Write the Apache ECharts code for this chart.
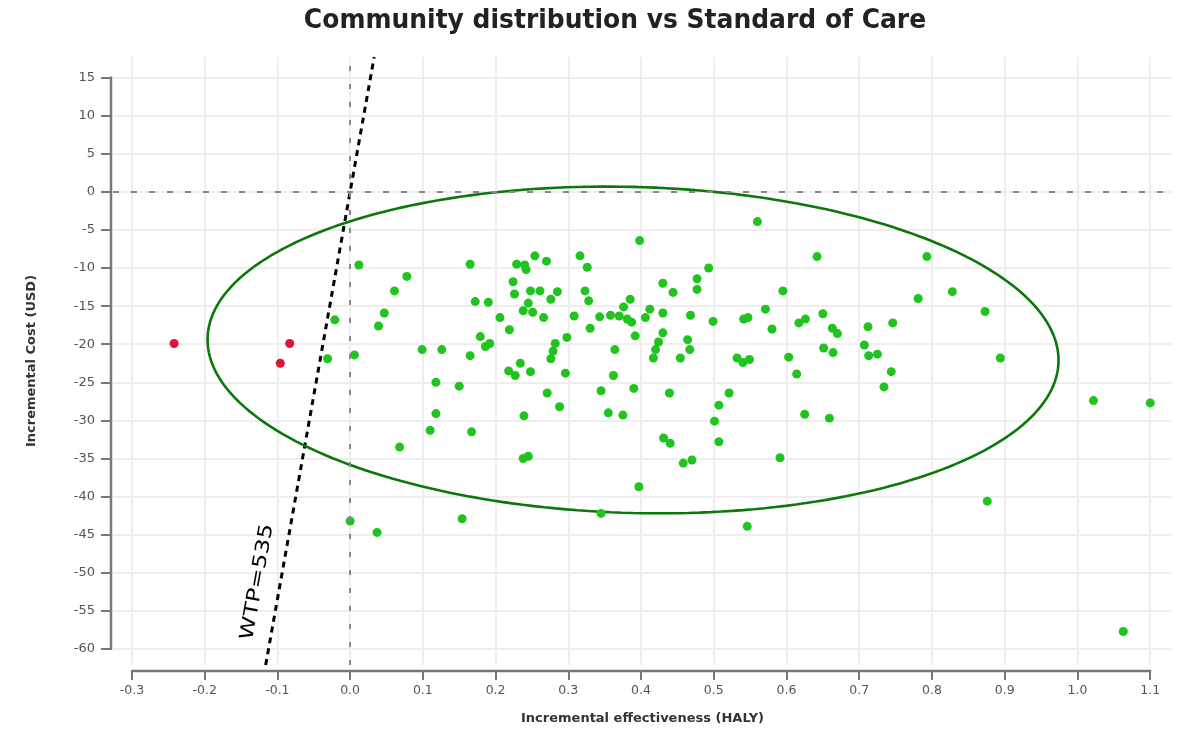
<!DOCTYPE html>
<html>
<head>
<meta charset="utf-8">
<script src="https://cdn.jsdelivr.net/npm/echarts@6/dist/echarts.min.js"></script>
<style>
html,body{margin:0;padding:0;background:#ffffff;}
#c{width:1181px;height:734px;}
</style>
</head>
<body>
<div id="c"></div>
<script>
// ---------- data ----------
const chartTitle = 'Community distribution vs Standard of Care';
const xAxisTitle = 'Incremental effectiveness (HALY)';
const yAxisTitle = 'Incremental Cost (USD)';
const wtpLabel = 'WTP=535';
const wtpValue = 535;
const xTicks = [-0.3, -0.2, -0.1, 0.0, 0.1, 0.2, 0.3, 0.4, 0.5, 0.6, 0.7, 0.8, 0.9, 1.0, 1.1];
const yTicks = [15, 10, 5, 0, -5, -10, -15, -20, -25, -30, -35, -40, -45, -50, -55, -60];

// dominated simulations (red)
const redEffect = [-0.242, -0.083, -0.096];
const redCost   = [-19.9, -19.9, -22.5];

// cost-effective simulations (green)
const greenEffect = [
  0.012,-0.021,0.047,0.039,-0.031,0.006,0.000,0.037,0.061,0.078,
  0.165,0.229,0.240,0.242,0.254,0.270,0.316,0.326,0.398,0.560,
  0.493,0.477,0.477,0.430,0.444,0.099,0.126,0.118,0.150,0.118,
  0.172,0.190,0.206,0.219,0.224,0.226,0.248,0.261,0.285,0.276,
  0.245,0.238,0.251,0.266,0.323,0.328,0.308,0.330,0.343,0.358,
  0.370,0.376,0.385,0.381,0.387,0.392,0.406,0.412,0.430,0.430,
  0.424,0.420,0.417,0.468,0.499,0.464,0.467,0.454,0.541,0.547,
  0.571,0.532,0.540,0.549,0.580,0.179,0.186,0.192,0.165,0.218,
  0.227,0.234,0.248,0.271,0.288,0.298,0.282,0.279,0.276,0.296,
  0.364,0.362,0.345,0.390,0.439,0.507,0.521,0.595,0.617,0.603,
  0.239,0.110,0.167,0.068,0.238,0.245,0.614,0.355,0.375,0.501,
  0.431,0.440,0.507,0.458,0.470,0.591,0.397,0.154,0.345,0.546,
  0.642,0.793,0.828,0.781,0.873,0.650,0.663,0.670,0.712,0.746,
  0.651,0.664,0.707,0.713,0.725,0.894,0.744,0.734,0.625,0.659,
  0.876,1.022,1.100,1.063,0.626
];
const greenCost = [
  -9.6,-16.8,-15.9,-17.6,-21.9,-21.4,-43.2,-44.7,-13.0,-11.1,
  -9.5,-9.5,-9.6,-10.2,-8.4,-9.1,-8.4,-9.9,-6.4,-3.9,
  -10.0,-11.4,-12.8,-12.0,-13.2,-20.7,-20.7,-25.0,-25.5,-29.1,
  -14.4,-14.5,-16.5,-18.1,-11.8,-13.4,-13.0,-13.0,-13.1,-14.1,
  -14.6,-15.6,-15.8,-16.5,-13.0,-14.3,-16.3,-17.9,-16.4,-16.2,
  -16.3,-15.1,-14.1,-16.7,-17.1,-18.9,-16.5,-15.4,-15.9,-18.5,
  -19.7,-20.7,-21.8,-16.2,-17.0,-19.4,-20.7,-21.8,-16.7,-16.5,
  -15.4,-21.8,-22.4,-22.0,-18.0,-19.0,-20.3,-19.9,-21.5,-23.5,
  -24.1,-22.5,-23.6,-26.4,-28.2,-19.1,-19.9,-20.9,-21.9,-23.8,
  -20.7,-24.1,-26.1,-25.8,-26.4,-28.0,-26.4,-13.0,-17.2,-21.7,
  -29.4,-31.3,-31.5,-33.5,-35.0,-34.7,-23.9,-29.0,-29.3,-30.1,
  -32.3,-33.0,-32.8,-35.6,-35.2,-34.9,-38.7,-42.9,-42.2,-43.9,
  -8.5,-8.5,-13.1,-14.0,-15.7,-16.0,-17.9,-18.6,-17.7,-17.2,
  -20.5,-21.1,-20.1,-21.5,-21.3,-21.8,-23.6,-25.6,-29.2,-29.7,
  -40.6,-27.4,-27.7,-57.7,-16.7
];

// confidence ellipse: centre, semi-axes, shear
const ellipseCentre = [0.389, -20.75];
const ellipseAxes = [0.585, 21.4];
const ellipseShear = -1.35;

// ---------- chart ----------
const xMin = -0.326, xMax = 1.130, yMin = -62.1, yMax = 17.7;
const GRID = {left: 113, right: 9, top: 57, bottom: 69};
const FONT = '"DejaVu Sans", "Liberation Sans", sans-serif';

const greenData = greenEffect.map((x, i) => [x, greenCost[i]]);
const redData = redEffect.map((x, i) => [x, redCost[i]]);

const ellipseData = [];
for (let i = 0; i <= 240; i++) {
  const t = (i / 240) * Math.PI * 2;
  ellipseData.push([
    ellipseCentre[0] + ellipseAxes[0] * Math.cos(t),
    ellipseCentre[1] + ellipseAxes[1] * Math.sin(t) + ellipseShear * Math.cos(t)
  ]);
}
const wtpData = [[yMin / wtpValue, yMin], [yMax / wtpValue, yMax]];

const chart = echarts.init(document.getElementById('c'));
const option = {
  animation: false,
  backgroundColor: '#ffffff',
  grid: GRID,
  xAxis: {
    type: 'value', min: xMin, max: xMax, offset: 6,
    axisLine: {show: false, onZero: false},
    axisTick: {show: true, customValues: xTicks, length: 9, lineStyle: {color: '#777', width: 2}},
    axisLabel: {customValues: xTicks, formatter: v => v.toFixed(1), color: '#555', fontSize: 12.5, margin: 13, fontFamily: FONT},
    splitLine: {show: true, lineStyle: {color: '#eeeeee', width: 2}},
    name: xAxisTitle, nameLocation: 'middle', nameGap: 41,
    nameTextStyle: {fontWeight: 'bold', fontSize: 13, color: '#333', fontFamily: FONT}
  },
  yAxis: {
    type: 'value', min: yMin, max: yMax, offset: 2,
    axisLine: {show: false, onZero: false},
    axisTick: {show: true, customValues: yTicks, length: 10, lineStyle: {color: '#777', width: 2}},
    axisLabel: {customValues: yTicks, formatter: v => String(v), color: '#555', fontSize: 13, margin: 16, fontFamily: FONT},
    splitLine: {show: true, lineStyle: {color: '#eeeeee', width: 2}},
    name: yAxisTitle, nameLocation: 'middle', nameGap: 73,
    nameTextStyle: {fontWeight: 'bold', fontSize: 13, color: '#333', fontFamily: FONT}
  },
  series: [
    {
      name: 'zero', type: 'line', data: [], silent: true, z: 1,
      markLine: {
        silent: true, symbol: ['none', 'none'], label: {show: false}, animation: false,
        lineStyle: {color: '#888888', width: 2},
        data: [
          {xAxis: 0, lineStyle: {type: [5, 13], color: '#888888', width: 2}},
          {yAxis: 0, lineStyle: {type: [6, 12], color: '#888888', width: 2}}
        ]
      }
    },
    {
      name: 'WTP', type: 'line', data: wtpData, showSymbol: false, symbol: 'none', z: 2, silent: true,
      lineStyle: {color: '#000', width: 3, type: [6, 5], cap: 'butt'}
    },
    {
      name: 'ellipse', type: 'line', data: ellipseData, showSymbol: false, symbol: 'none', smooth: false, z: 3, silent: true,
      lineStyle: {color: '#0a780a', width: 2.6}
    },
    {
      name: 'green', type: 'scatter', data: greenData, symbolSize: 9, z: 4,
      itemStyle: {color: '#1fc41f', opacity: 1}
    },
    {
      name: 'red', type: 'scatter', data: redData, symbolSize: 9, z: 4,
      itemStyle: {color: '#dc1438', opacity: 1}
    }
  ]
};
chart.setOption(option);

// axis lines spanning the tick range, label along WTP line, title
const px = v => chart.convertToPixel({xAxisIndex: 0}, v);
const py = v => chart.convertToPixel({yAxisIndex: 0}, v);
const yAxisX = GRID.left - 2;
const xAxisY = 734 - GRID.bottom + 6;
const labelCost = -51.2;
const labelPos = [px(labelCost / wtpValue) - 23, py(labelCost)];
const lineAngle = Math.atan2(py(0) - py(yMax), px(yMax / wtpValue) - px(0));

chart.setOption({
  graphic: [
    {type: 'line', silent: true, z: 10,
     shape: {x1: yAxisX, y1: py(yTicks[0]) - 1, x2: yAxisX, y2: py(yTicks[yTicks.length - 1]) + 1},
     style: {stroke: '#777', lineWidth: 2.5}},
    {type: 'line', silent: true, z: 10,
     shape: {x1: px(xTicks[0]) - 1, y1: xAxisY, x2: px(xTicks[xTicks.length - 1]) + 1, y2: xAxisY},
     style: {stroke: '#777', lineWidth: 2.5}},
    {type: 'text', silent: true, z: 10, x: labelPos[0], y: labelPos[1], rotation: lineAngle, scaleX: 1.25,
     style: {text: wtpLabel, font: '19px ' + FONT, fill: '#000', textAlign: 'center', textVerticalAlign: 'middle', align: 'center', verticalAlign: 'middle'}},
    {type: 'text', silent: true, z: 10, x: 615, y: 21, scaleY: 1.05,
     style: {text: chartTitle, font: 'bold 25px ' + FONT, fill: '#222', textAlign: 'center', textVerticalAlign: 'middle', align: 'center', verticalAlign: 'middle'}}
  ]
});
</script>
</body>
</html>
